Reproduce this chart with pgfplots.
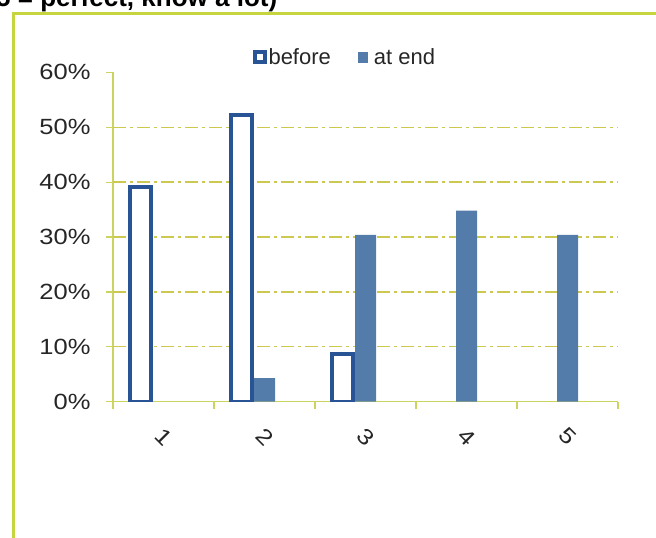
\documentclass[border=0pt]{standalone}
\usepackage{pgfplots}
\pgfplotsset{compat=1.18}
\usepackage{fontspec}
\setmainfont{Liberation Sans}
\newfontfamily\tickfont{Liberation Sans}[FakeStretch=1.16]
\definecolor{framecol}{RGB}{198,212,62}
\definecolor{axcol}{RGB}{204,212,96}
\definecolor{gridcol}{RGB}{204,200,80}
\definecolor{beforecol}{RGB}{40,84,150}
\definecolor{endcol}{RGB}{84,124,170}
\begin{document}
\begin{tikzpicture}
\useasboundingbox (0,0) rectangle (656bp,-538bp);
\clip (0,0) rectangle (656bp,-538bp);
\node[anchor=base west, inner sep=0pt, font=\fontsize{26bp}{28bp}\selectfont\bfseries] at (-4bp,-6.5bp) {5 = perfect, know a lot)};
\draw[framecol, line width=3bp] (13bp,-700bp) -- (13bp,-13.5bp) -- (700bp,-13.5bp);
\begin{axis}[
  at={(113bp,-401.7bp)}, anchor=south west,
  scale only axis, width=505bp, height=329.4bp,
  xmin=0.5, xmax=5.5, ymin=0, ymax=60,
  axis lines=left,
  axis line style={-, draw=axcol, line width=1.4bp},
  every outer x axis line/.append style={draw=axcol},
  every outer y axis line/.append style={draw=axcol},
  tick style={draw=axcol, line width=1.2bp},
  tick align=outside,
  major tick length=7bp,
  xtick={0.5,1.5,2.5,3.5,4.5,5.5},
  xticklabels={},
  extra x ticks={1,2,3,4,5},
  extra x tick labels={1,2,3,4,5},
  extra x tick style={major tick length=0pt, tick style={draw=none},
    xticklabel style={yshift=-35bp, rotate=-45, anchor=center}},
  ytick={0,10,20,30,40,50,60},
  yticklabels={0\%,10\%,20\%,30\%,40\%,50\%,60\%},
  extra y ticks={10,20,30,40,50},
  extra y tick labels={},
  extra y tick style={grid=major, major tick length=0pt},
  grid style={draw=gridcol, line width=1.3bp, dash pattern=on 13bp off 4bp on 3bp off 4bp},
  /pgf/number format/assume math mode=true,
  tick label style={font=\tickfont\fontsize{22bp}{24bp}\selectfont, text=black!85},
  yticklabel style={xshift=-12bp},
  ybar, bar width=21bp,
  legend style={draw=none, fill=none, at={(0.459,1.046)}, anchor=center,
    font=\fontsize{22bp}{24bp}\selectfont, text=black!85,
    legend columns=2, inner sep=0pt,
    /tikz/every even column/.append style={column sep=25bp}},
]
\addplot[bar shift=-23bp, draw=beforecol, line width=4bp, fill=white,
  legend image code/.code={\draw[draw=beforecol, line width=4bp, fill=white] (2bp,-5bp) rectangle (12bp,5bp);}]
  coordinates {(1,39.1) (2,52.2) (3,8.7)};
\addlegendentry{before}
\addplot[bar shift=0bp, draw=none, fill=endcol,
  legend image code/.code={\fill[endcol] (0bp,-5.5bp) rectangle (10bp,5.5bp); \path (14bp,0);}]
  coordinates {(2,4.3) (3,30.4) (4,34.8) (5,30.4)};
\addlegendentry{at end}
\end{axis}
\end{tikzpicture}
\end{document}
